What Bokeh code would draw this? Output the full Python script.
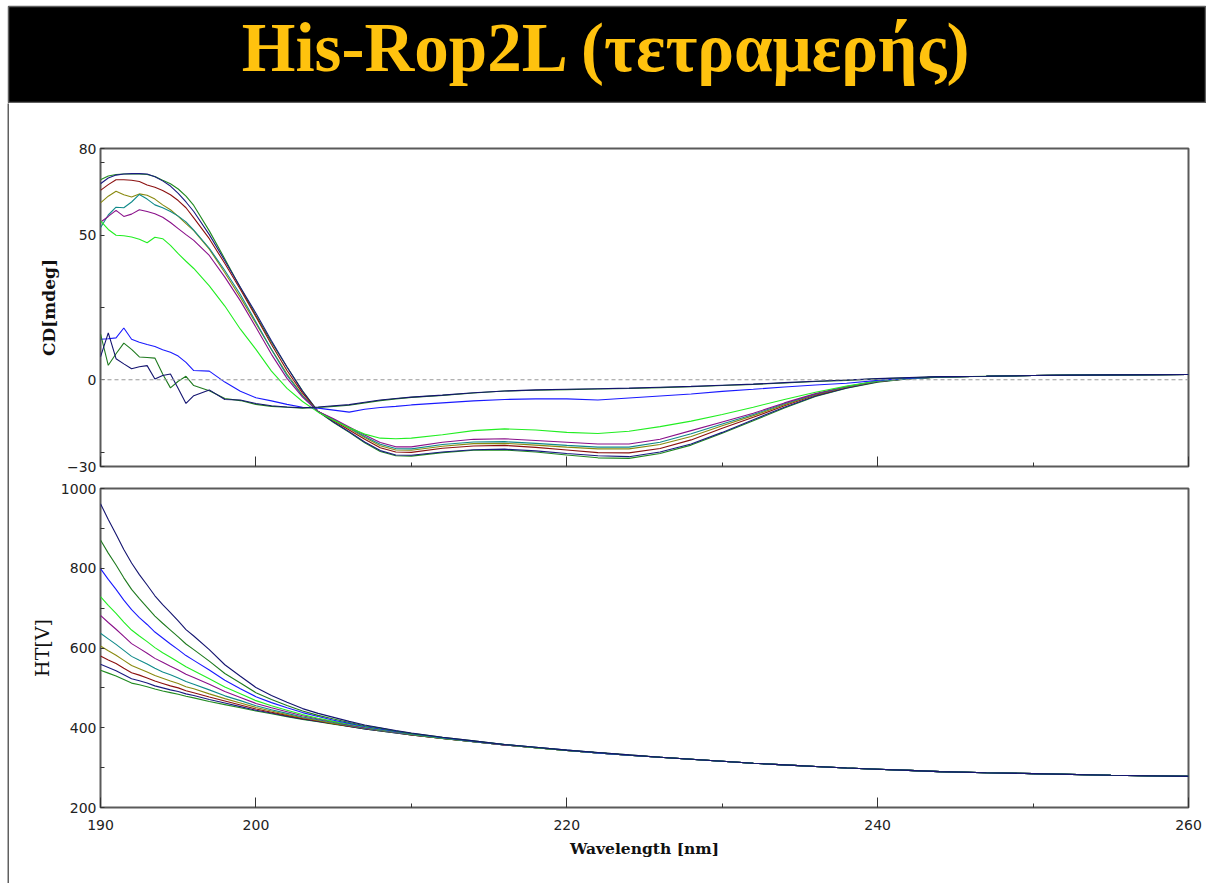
from bokeh.plotting import figure
from bokeh.models import FixedTicker, Span, Label, Range1d, CustomJSTickFormatter
from bokeh.layouts import column, row
from bokeh.embed import file_html
from bokeh.resources import INLINE

title_text = "His-Rop2L (τετραμερής)"

wavelength = [190, 190.5, 191, 191.5, 192, 192.5, 193, 193.5, 194, 194.5, 195, 195.5, 196,
              197, 198, 199, 200, 201, 202, 203, 204, 205, 206, 207, 208, 209, 210,
              212, 214, 216, 218, 220, 222, 224, 226, 228, 230, 232, 234, 236, 238, 240, 242, 244,
              247, 250, 255, 260]

# CD [mdeg]
cd_s1 = [69.2, 70.5, 71.0, 71.2, 71.2, 71.2, 71.0, 70.3, 69.0, 67.8, 66.0, 63.5, 60.3,
         51.5, 41.8, 31.8, 22.2, 13.0, 4.4, -3.8, -11.0, -14.8, -18.2, -21.8, -24.8, -26.3, -26.4,
         -25.2, -24.4, -24.3, -25.0, -26.0, -27.0, -27.2, -25.5, -22.6, -18.5, -14.2, -9.8, -5.8, -2.9, -0.8, 0.4, 0.9,
         1.2, 1.5, 1.7, 1.8]
cd_s2 = [67.8, 69.8, 70.8, 71.2, 71.3, 71.3, 71.2, 70.2, 68.8, 67.0, 64.5, 61.5, 58.2,
         50.2, 41.2, 32.0, 23.0, 13.5, 4.4, -4.0, -11.0, -14.6, -18.0, -21.5, -24.5, -26.0, -26.1,
         -25.0, -24.2, -24.0, -24.6, -25.5, -26.3, -26.6, -25.0, -22.2, -18.2, -13.8, -9.5, -5.6, -2.8, -0.7, 0.4, 1.0,
         1.2, 1.5, 1.7, 1.8]
cd_s3 = [65.5, 67.5, 69.2, 69.2, 69.0, 68.6, 67.4, 66.6, 65.5, 64.0, 62.0, 59.5, 56.0,
         48.8, 40.2, 31.2, 21.8, 12.2, 3.2, -4.6, -11.0, -14.2, -17.4, -20.6, -23.5, -25.0, -25.1,
         -23.7, -22.9, -22.7, -23.4, -24.3, -25.2, -25.3, -23.8, -20.8, -16.8, -13.0, -9.0, -5.3, -2.6, -0.6, 0.4, 1.0,
         1.2, 1.5, 1.7, 1.8]
cd_s4 = [61.2, 63.5, 65.2, 64.0, 63.2, 64.3, 63.8, 62.5, 60.5, 58.8, 56.5, 54.0, 51.6,
         45.2, 37.0, 28.5, 19.5, 10.5, 2.0, -5.4, -11.0, -13.9, -16.9, -20.0, -22.8, -24.3, -24.4,
         -23.0, -22.1, -22.0, -22.6, -23.3, -23.9, -23.9, -22.4, -19.6, -15.9, -12.4, -8.6, -5.1, -2.5, -0.5, 0.4, 1.0,
         1.2, 1.5, 1.7, 1.8]
cd_s5 = [52.6, 57.0, 59.7, 59.5, 61.5, 64.1, 62.5, 60.5, 59.5, 58.2, 56.6, 54.6, 51.8,
         45.5, 37.8, 29.5, 20.0, 10.5, 1.5, -5.6, -11.0, -13.7, -16.6, -19.6, -22.3, -23.8, -23.9,
         -22.4, -21.5, -21.4, -22.0, -22.7, -23.3, -23.3, -21.6, -18.7, -15.3, -12.0, -8.3, -5.0, -2.4, -0.5, 0.4, 1.0,
         1.2, 1.5, 1.7, 1.8]
cd_s6 = [54.5, 56.5, 58.6, 56.5, 57.3, 58.8, 58.2, 57.4, 56.2, 54.4, 52.3, 50.2, 48.2,
         43.0, 35.5, 27.3, 18.2, 8.8, 0.5, -6.0, -11.0, -13.5, -16.3, -19.1, -21.7, -23.2, -23.2,
         -21.6, -20.6, -20.4, -21.0, -21.6, -22.2, -22.2, -20.6, -17.6, -14.6, -11.6, -8.0, -4.8, -2.3, -0.4, 0.4, 1.0,
         1.2, 1.5, 1.7, 1.8]
cd_s7 = [55.0, 52.0, 50.0, 49.8, 49.4, 48.6, 47.4, 49.3, 48.8, 46.5, 43.6, 41.0, 38.5,
         32.5, 25.5, 17.5, 10.5, 3.0, -3.0, -7.5, -11.2, -14.0, -16.6, -18.8, -20.2, -20.4, -20.2,
         -19.0, -17.6, -17.0, -17.4, -18.2, -18.6, -17.8, -16.2, -14.3, -12.0, -9.5, -6.8, -4.3, -2.2, -0.4, 0.4, 1.0,
         1.2, 1.5, 1.7, 1.8]
cd_s8 = [14.0, 14.2, 14.5, 17.9, 14.0, 13.0, 12.2, 11.5, 10.4, 9.5, 8.2, 6.0, 3.2,
         3.0, -0.8, -4.0, -6.2, -7.3, -8.5, -9.5, -9.8, -10.5, -11.2, -10.2, -9.6, -9.2, -8.7,
         -8.0, -7.3, -6.8, -6.6, -6.6, -7.0, -6.3, -5.6, -4.9, -4.0, -3.3, -2.5, -1.8, -1.2, -0.2, 0.5, 1.0,
         1.2, 1.5, 1.7, 1.8]
cd_s9 = [15.9, 5.0, 9.0, 12.7, 10.5, 7.9, 7.7, 7.5, 2.0, -2.8, -0.5, 1.2, -2.0,
         -3.8, -6.5, -7.2, -8.5, -9.2, -9.5, -9.8, -9.6, -9.2, -8.8, -8.0, -7.2, -6.6, -6.1,
         -5.4, -4.6, -3.9, -3.6, -3.4, -3.2, -3.0, -2.7, -2.4, -2.0, -1.6, -1.1, -0.6, -0.2, 0.3, 0.7, 1.0,
         1.2, 1.5, 1.7, 1.8]
cd_s10 = [7.9, 16.2, 7.3, 5.5, 3.8, 4.5, 4.9, 0.3, 1.5, 2.0, -3.0, -8.2, -5.5,
          -3.5, -6.8, -7.0, -8.2, -9.0, -9.4, -9.7, -9.4, -9.0, -8.6, -7.8, -7.0, -6.5, -6.0,
          -5.3, -4.5, -3.9, -3.5, -3.3, -3.1, -2.9, -2.6, -2.3, -1.9, -1.5, -1.0, -0.5, -0.1, 0.4, 0.8, 1.1,
          1.2, 1.5, 1.7, 1.8]

# HT [V]
ht_s1 = [544, 537, 530, 521, 512, 508, 503, 497, 492, 488, 484, 479, 475,
         466, 458, 450, 442, 435, 428, 421, 415, 409, 403, 397, 392, 387, 382,
         373, 365, 357, 350, 343, 337, 331, 326, 321, 316, 311, 307, 303, 299, 296, 293, 290,
         287, 285, 281, 278]
ht_s2 = [559, 551, 543, 533, 523, 518, 512, 505, 500, 495, 491, 485, 481,
         471, 462, 453, 444, 437, 429, 422, 416, 410, 403, 397, 392, 387, 382,
         373, 365, 357, 350, 343, 337, 331, 326, 321, 316, 311, 307, 303, 299, 296, 293, 290,
         287, 285, 281, 278]
ht_s3 = [580, 570, 561, 549, 538, 532, 525, 517, 511, 505, 500, 493, 488,
         477, 467, 457, 447, 439, 431, 423, 417, 410, 404, 398, 393, 388, 382,
         373, 365, 357, 350, 343, 337, 331, 326, 321, 316, 311, 307, 303, 299, 296, 293, 290,
         287, 285, 281, 278]
ht_s4 = [605, 593, 582, 569, 556, 548, 540, 531, 524, 517, 511, 503, 498,
         485, 473, 462, 451, 442, 433, 425, 418, 411, 405, 399, 393, 388, 383,
         373, 365, 357, 350, 343, 337, 331, 326, 321, 316, 311, 307, 303, 299, 296, 293, 290,
         287, 285, 281, 278]
ht_s5 = [637, 623, 609, 594, 579, 569, 560, 549, 540, 533, 525, 516, 509,
         495, 480, 468, 455, 445, 436, 427, 420, 413, 406, 399, 394, 388, 383,
         374, 365, 357, 350, 343, 337, 331, 326, 321, 316, 311, 307, 303, 299, 296, 293, 290,
         287, 285, 281, 278]
ht_s6 = [682, 664, 647, 629, 611, 599, 587, 574, 564, 554, 545, 534, 526,
         509, 491, 476, 461, 450, 440, 430, 422, 415, 407, 400, 395, 389, 384,
         374, 366, 357, 350, 343, 337, 331, 326, 321, 316, 311, 307, 303, 299, 296, 293, 290,
         287, 285, 281, 278]
ht_s7 = [729, 707, 687, 665, 645, 630, 616, 601, 588, 577, 565, 553, 543,
         523, 502, 485, 468, 455, 444, 433, 424, 416, 409, 402, 396, 390, 384,
         374, 366, 358, 350, 343, 337, 331, 326, 321, 316, 311, 307, 303, 299, 296, 293, 290,
         287, 285, 281, 278]
ht_s8 = [799, 772, 747, 720, 696, 676, 659, 640, 625, 610, 596, 581, 569,
         545, 519, 498, 478, 463, 450, 438, 428, 419, 411, 403, 397, 391, 385,
         375, 366, 358, 351, 344, 337, 331, 326, 321, 316, 311, 307, 303, 299, 296, 293, 290,
         287, 285, 281, 278]
ht_s9 = [871, 838, 808, 776, 747, 724, 702, 680, 662, 645, 628, 610, 596,
         567, 536, 512, 488, 471, 456, 442, 431, 422, 413, 405, 399, 392, 386,
         376, 367, 358, 351, 344, 338, 332, 326, 321, 316, 311, 307, 303, 299, 296, 293, 290,
         287, 285, 281, 278]
ht_s10 = [962, 922, 885, 847, 813, 784, 758, 731, 709, 689, 668, 646, 630,
          596, 558, 529, 501, 481, 464, 448, 436, 426, 416, 407, 400, 393, 387,
          376, 367, 358, 351, 344, 338, 332, 326, 321, 316, 311, 307, 303, 299, 296, 293, 290,
          287, 285, 281, 278]

series_colors = ["#1f8a1f", "#1a1a80", "#8b1010", "#8a8a10", "#108a8a",
                 "#8a108a", "#22ee22", "#1a1aff", "#1f7a1f", "#141470"]
cd_series = [cd_s1, cd_s2, cd_s3, cd_s4, cd_s5, cd_s6, cd_s7, cd_s8, cd_s9, cd_s10]
ht_series = [ht_s1, ht_s2, ht_s3, ht_s4, ht_s5, ht_s6, ht_s7, ht_s8, ht_s9, ht_s10]

x_major = [190, 200, 220, 240, 260]
x_minor = [210, 230, 250]
cd_major = [-30, 0, 50, 80]
cd_minor = [-25, 25, 75]
ht_major = [200, 400, 600, 800, 1000]
ht_minor = [300, 500, 700, 900]

TICK_FONT = "DejaVu Sans"
FRAME = "#5a5a5a"


def style_plot(p, ymajor, yminor):
    p.grid.visible = False
    p.outline_line_color = FRAME
    p.outline_line_width = 2
    p.background_fill_color = "white"
    p.border_fill_color = "white"
    xa = p.xaxis[0]
    xa.ticker = FixedTicker(ticks=x_major, minor_ticks=x_minor)
    xa.major_tick_in = 10
    xa.major_tick_out = 0
    xa.minor_tick_in = 4
    xa.minor_tick_out = 0
    xa.axis_line_color = None
    xa.major_tick_line_color = "#333333"
    xa.minor_tick_line_color = "#333333"
    ya = p.yaxis[0]
    ya.ticker = FixedTicker(ticks=ymajor, minor_ticks=yminor)
    ya.major_tick_in = 4
    ya.major_tick_out = 0
    ya.minor_tick_in = 4
    ya.minor_tick_out = 0
    ya.axis_line_color = None
    ya.major_tick_line_color = "#333333"
    ya.minor_tick_line_color = "#333333"
    ya.major_label_text_font = TICK_FONT
    ya.major_label_text_font_size = "14px"
    ya.major_label_text_color = "#222222"
    ya.major_label_standoff = 4
    ya.axis_label_standoff = 5
    ya.axis_label_text_font = "DejaVu Serif"
    ya.axis_label_text_color = "#111111"


# Header
hdr = figure(width=1206, height=103, x_range=Range1d(0, 1), y_range=Range1d(0, 96),
             x_axis_type=None, y_axis_type=None, toolbar_location=None,
             output_backend="svg", min_border_left=8, min_border_right=0,
             min_border_top=6, min_border_bottom=1)
hdr.grid.visible = False
hdr.background_fill_color = "black"
hdr.border_fill_color = "white"
hdr.outline_line_color = "#606060"
hdr.outline_line_width = 1.5
hdr.add_layout(Label(x=0.5, y=55, text=title_text, text_align="center",
                     text_baseline="middle", text_color="#FFC20E",
                     text_font="Liberation Serif", text_font_style="bold",
                     text_font_size="69px"))

# Left border strip
strip = figure(width=9, height=780, x_range=Range1d(0, 1), y_range=Range1d(0, 1),
               x_axis_type=None, y_axis_type=None, toolbar_location=None,
               output_backend="svg", min_border_left=7, min_border_right=0,
               min_border_top=0, min_border_bottom=0)
strip.grid.visible = False
strip.background_fill_color = "#606060"
strip.border_fill_color = "white"
strip.outline_line_color = None

# CD plot
cd = figure(width=1197, height=374, x_range=Range1d(190, 260), y_range=Range1d(-30, 80),
            toolbar_location=None, output_backend="svg",
            min_border_left=91, min_border_right=18, min_border_top=45, min_border_bottom=11)
style_plot(cd, cd_major, cd_minor)
cd.xaxis[0].formatter = CustomJSTickFormatter(code="return ''")
cd.xaxis[0].major_label_text_font_size = "1px"
cd.xaxis[0].major_label_standoff = 0
cd.yaxis[0].axis_label = "CD[mdeg]"
cd.yaxis[0].axis_label_text_font_size = "17px"
cd.yaxis[0].axis_label_text_font_style = "bold"
cd.add_layout(Span(location=0, dimension="width", line_color="#999999",
                   line_dash="4 3", line_width=1.2))
for vals, col in zip(cd_series, series_colors):
    cd.line(wavelength, vals, line_color=col, line_width=1.1)

# HT plot
ht = figure(width=1197, height=406, x_range=Range1d(190, 260), y_range=Range1d(200, 1000),
            toolbar_location=None, output_backend="svg",
            min_border_left=91, min_border_right=18, min_border_top=11, min_border_bottom=76)
style_plot(ht, ht_major, ht_minor)
xa = ht.xaxis[0]
xa.major_label_text_font = TICK_FONT
xa.major_label_text_font_size = "14px"
xa.major_label_text_color = "#222222"
xa.major_label_standoff = 12
xa.axis_label = "Wavelength [nm]"
xa.axis_label_text_font = "DejaVu Serif"
xa.axis_label_text_font_style = "bold"
xa.axis_label_text_font_size = "15.5px"
xa.axis_label_text_color = "#111111"
xa.axis_label_standoff = 6
ht.yaxis[0].axis_label = "HT[V]"
ht.yaxis[0].axis_label_text_font_size = "19px"
ht.yaxis[0].axis_label_text_font_style = "normal"
for vals, col in zip(ht_series, series_colors):
    ht.line(wavelength, vals, line_color=col, line_width=1.1)

p = column(hdr, row(strip, column(cd, ht, spacing=0), spacing=0), spacing=0)

open("out.html", "w").write(file_html(p, INLINE))
